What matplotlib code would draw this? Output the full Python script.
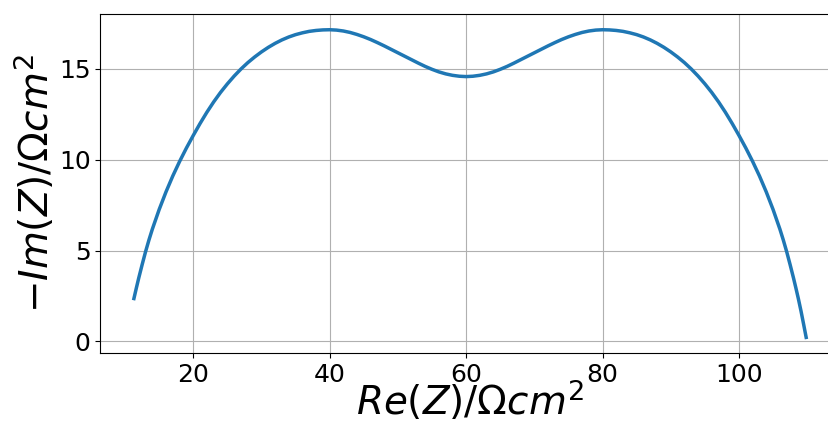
import numpy as np
import matplotlib.pyplot as plt

# Nyquist data (Re in Ohm cm^2, -Im in Ohm cm^2)
re_z = [11.3, 11.65, 12.0, 12.5, 13.0, 13.5, 14.0, 15.0, 16.0, 17.0,
        18.0, 19.0, 20.0, 21.0, 22.0, 23.0, 24.0, 25.0, 26.0, 27.0,
        28.0, 29.0, 30.0, 31.0, 32.0, 33.0, 34.0, 35.0, 36.0, 37.0,
        38.0, 39.0, 40.0, 41.0, 42.0, 43.0, 44.0, 45.0, 46.0, 47.0,
        48.0, 49.0, 50.0, 51.0, 52.0, 53.0, 54.0, 55.0, 56.0, 57.0,
        58.0, 59.0, 60.0, 61.0, 62.0, 63.0, 64.0, 65.0, 66.0, 67.0,
        68.0, 69.0, 70.0, 71.0, 72.0, 73.0, 74.0, 75.0, 76.0, 77.0,
        78.0, 79.0, 80.0, 81.0, 82.0, 83.0, 84.0, 85.0, 86.0, 87.0,
        88.0, 89.0, 90.0, 91.0, 92.0, 93.0, 94.0, 95.0, 96.0, 97.0,
        98.0, 99.0, 100.0, 101.0, 102.0, 103.0, 104.0, 105.0, 106.0, 106.5,
        107.0, 107.5, 108.0, 108.35, 108.7, 109.1, 109.5, 109.85]
im_z = [2.36, 2.93, 3.48, 4.22, 4.93, 5.58, 6.18, 7.26, 8.23, 9.11,
        9.91, 10.65, 11.34, 12.0, 12.62, 13.19, 13.71, 14.18, 14.61, 15.0,
        15.35, 15.66, 15.94, 16.19, 16.41, 16.6, 16.76, 16.89, 16.99, 17.07,
        17.12, 17.15, 17.16, 17.14, 17.09, 17.01, 16.9, 16.77, 16.62, 16.45,
        16.27, 16.08, 15.89, 15.7, 15.51, 15.32, 15.14, 14.98, 14.84, 14.73,
        14.65, 14.6, 14.58, 14.6, 14.65, 14.73, 14.84, 14.98, 15.14, 15.32,
        15.51, 15.7, 15.89, 16.08, 16.27, 16.45, 16.62, 16.77, 16.9, 17.01,
        17.09, 17.14, 17.16, 17.15, 17.12, 17.07, 16.99, 16.89, 16.76, 16.6,
        16.41, 16.19, 15.94, 15.66, 15.35, 15.0, 14.61, 14.18, 13.71, 13.19,
        12.62, 12.0, 11.34, 10.65, 9.91, 9.11, 8.23, 7.26, 6.18, 5.58,
        4.93, 4.22, 3.48, 2.93, 2.36, 1.66, 0.9, 0.22]

fig = plt.figure(figsize=(8.29, 4.22), dpi=100)
ax = fig.add_axes([0.121, 0.164, 0.892, 0.802])
ax.plot(re_z, im_z, color='#1f77b4', linewidth=2.5)
ax.grid(True)
ax.tick_params(labelsize=18)
ax.set_xlabel(r'$Re(Z)/\Omega cm^2$', fontsize=28, labelpad=-6)
ax.set_ylabel(r'$-Im(Z)/\Omega cm^2$', fontsize=28, labelpad=1)
fig.savefig('out.png', dpi=100)
